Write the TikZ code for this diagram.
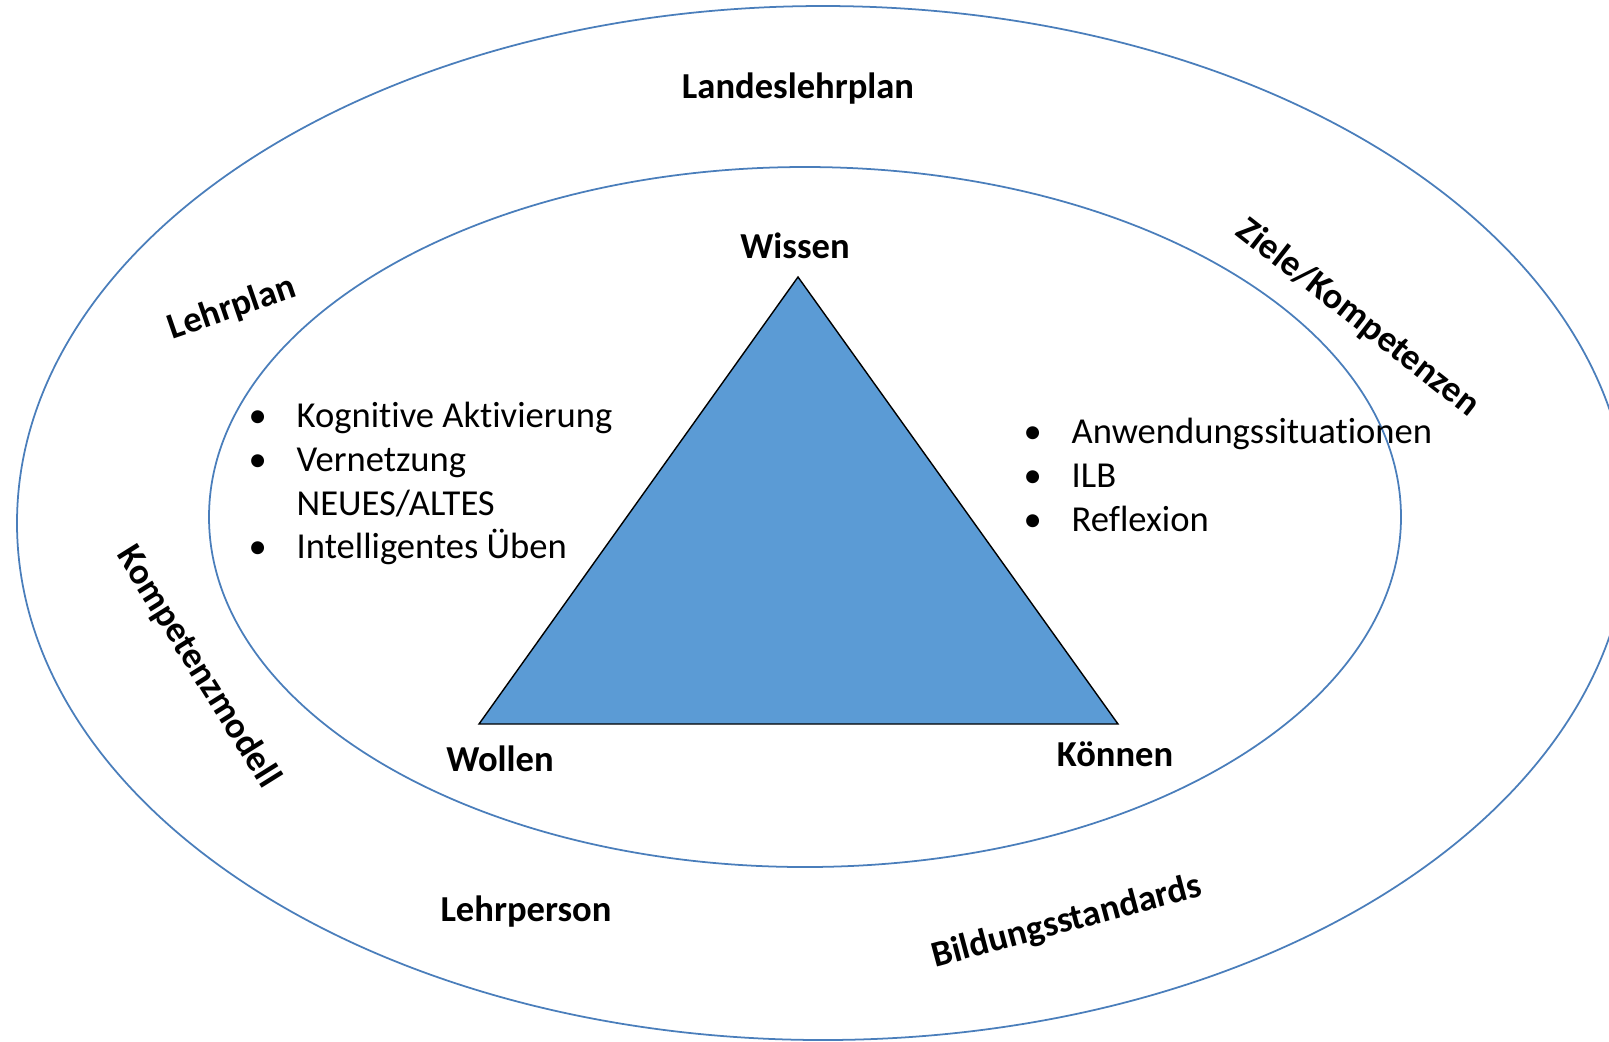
\documentclass[tikz,border=0pt]{standalone}
\usepackage{fontspec}
\setmainfont{Carlito}[Ligatures=NoCommon]
\usepackage{tikz}
\definecolor{ringblue}{HTML}{4A7EBB}
\definecolor{triblue}{HTML}{5B9BD5}
\newcommand*{\bul}{\makebox[0.48cm][l]{\textbullet}}
\newcommand*{\nob}{\hspace{0.48cm}}

\begin{document}
\begin{tikzpicture}[x=0.01cm,y=-0.01cm,
    ring/.style ={draw=ringblue, line width=0.5pt},
    corner_label/.style ={font=\fontsize{10.4}{12.5}\selectfont\bfseries, inner sep=0pt},
    ring_label/.style ={font=\fontsize{10.4}{12.5}\selectfont\bfseries, inner sep=0pt},
    bullet_list/.style ={font=\fontsize{10.4}{12.5}\selectfont, align=left,
      inner sep=0pt, anchor=north west}]
    % page frame, the outer ring runs off the right edge
    \useasboundingbox (0,0) rectangle (1609,1041);
    \clip (0,0) rectangle (1609,1041);
    % rings
    \draw [ring] (823,523) ellipse [x radius=806, y radius=517];
    \draw [ring] (805,517) ellipse [x radius=596, y radius=350];
    % triangle
    \coordinate (apex) at (798,277);
    \coordinate (left_corner) at (479,724);
    \coordinate (right_corner) at (1118,724);
    \filldraw [fill=triblue, draw=black, line width=0.4pt]
      (apex) -- (left_corner) -- (right_corner) -- cycle;
    % corners of the triangle
    \node [corner_label] (wissen) at (795,246) {Wissen};
    \node [corner_label] (wollen) at (500,759) {Wollen};
    \node [corner_label] (koennen) at (1115,754) {Können};
    % labels in the rings
    \node [ring_label] (landeslehrplan) at (798,89) {Landeslehrplan};
    \node [ring_label, rotate=19] (lehrplan) at (232,308) {Lehrplan};
    \node [ring_label, rotate=-38] (ziele) at (1358,318) {Ziele/Kompetenzen};
    \node [ring_label, rotate=-58] (kompetenzmodell) at (198,667) {Kompetenzmodell};
    \node [ring_label] (lehrperson) at (526,912) {Lehrperson};
    \node [ring_label, rotate=15] (bildungsstandards) at (1067,922) {Bildungsstandards};
    % lists beside the triangle
    \node [bullet_list] (left_list) at (248,401) {\bul Kognitive Aktivierung\\
                  \bul Vernetzung\\
                  \nob NEUES/ALTES\\
                  \bul Intelligentes Üben};
    \node [bullet_list] (right_list) at (1023,417) {\bul Anwendungssituationen\\
                  \bul ILB\\
                  \bul Reflexion};
  \end{tikzpicture}
\end{document}
